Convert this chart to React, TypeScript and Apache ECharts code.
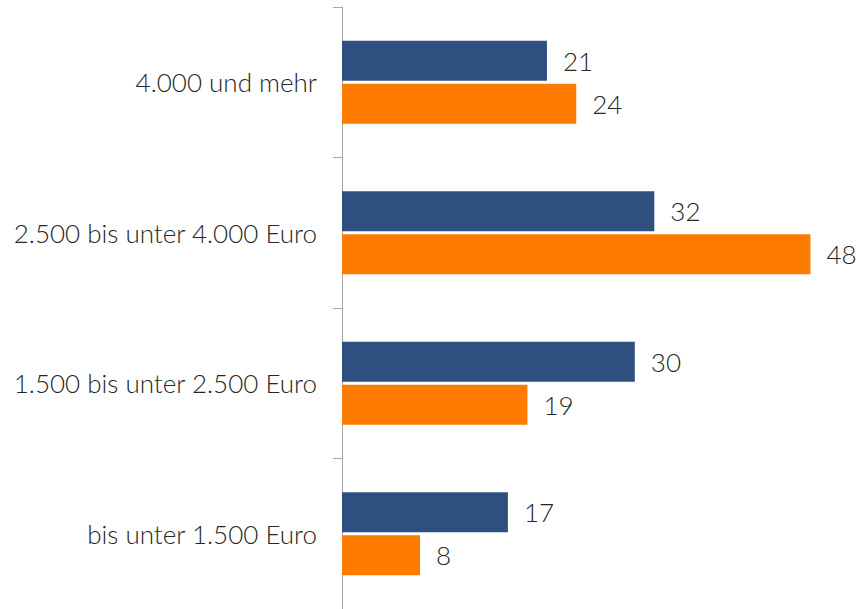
import React, { useEffect, useRef } from "react";
import * as echarts from "echarts";

const categories = [
  "4.000 und mehr",
  "2.500 bis unter 4.000 Euro",
  "1.500 bis unter 2.500 Euro",
  "bis unter 1.500 Euro",
];
const seriesA = [21, 32, 30, 17];
const seriesB = [24, 48, 19, 8];

export default function App() {
  const ref = useRef<HTMLDivElement>(null);
  useEffect(() => {
    document.body.style.margin = "0";
    const chart = echarts.init(ref.current!, null, { renderer: "svg" });
    const label = {
      show: true,
      position: "right",
      distance: 16,
      fontFamily: "Lato",
      fontWeight: 300,
      fontSize: 26,
      color: "#262626",
    };
    chart.setOption({
      animation: false,
      grid: { left: 342, right: 30, top: 7, bottom: 0, containLabel: false },
      xAxis: {
        type: "value",
        min: 0,
        max: 50,
        show: false,
      },
      yAxis: {
        type: "category",
        inverse: true,
        data: categories,
        axisLine: { show: true, lineStyle: { color: "#a6a6a6", width: 1 } },
        axisTick: { show: true, length: 9, lineStyle: { color: "#a6a6a6" } },
        axisLabel: {
          margin: 25,
          fontFamily: "Lato",
          fontWeight: 300,
          fontSize: 26,
          color: "#262626",
        },
        splitLine: { show: false },
      },
      series: [
        {
          type: "bar",
          data: seriesA,
          barWidth: 40,
          barGap: "8%",
          itemStyle: { color: "#2f4f81" },
          label,
        },
        {
          type: "bar",
          data: seriesB,
          barWidth: 40,
          itemStyle: { color: "#fe7b02" },
          label,
        },
      ],
    });
    return () => chart.dispose();
  }, []);
  return <div ref={ref} style={{ width: 860, height: 609 }} />;
}
